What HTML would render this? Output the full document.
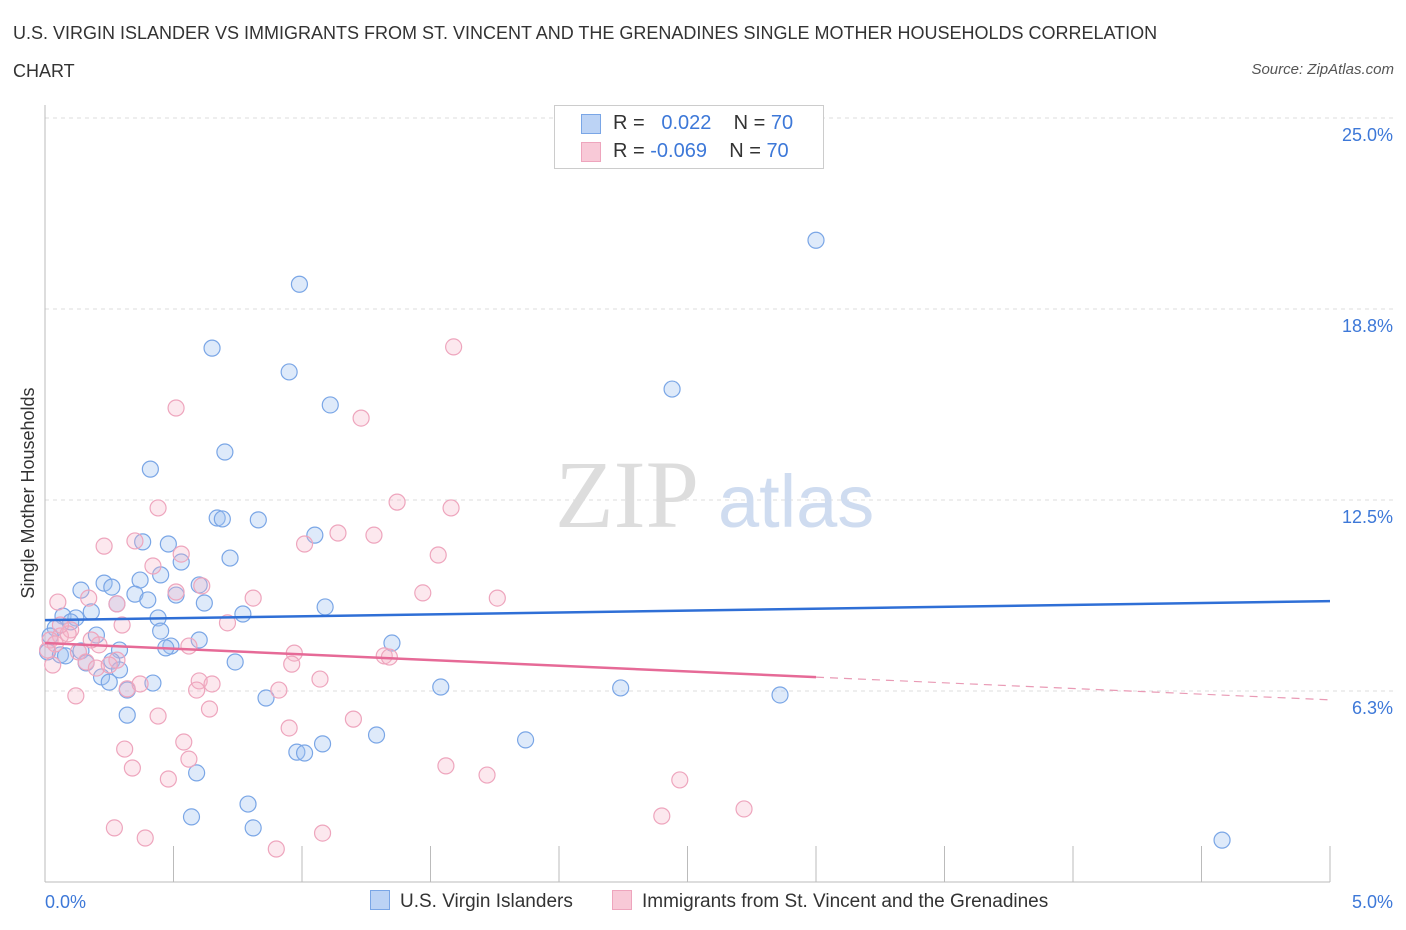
<!DOCTYPE html>
<html><head><meta charset="utf-8"><style>
body{margin:0;background:#fff;font-family:"Liberation Sans",sans-serif;}
#wrap{position:relative;width:1406px;height:930px;overflow:hidden;}
.t{position:absolute;white-space:nowrap;}
</style></head><body>
<div id="wrap">
<div class="t" style="left:13px;top:14px;font-size:18px;color:#333;line-height:38px;width:1200px;white-space:normal">U.S. VIRGIN ISLANDER VS IMMIGRANTS FROM ST. VINCENT AND THE GRENADINES SINGLE MOTHER HOUSEHOLDS CORRELATION CHART</div>
<div class="t" style="right:12px;top:61px;font-size:15px;color:#555;font-style:italic">Source: ZipAtlas.com</div>
<svg id="svg" width="1406" height="930" style="position:absolute;left:0;top:0"></svg>
</div>
<script>
const yTicks=[25.0,18.8,12.5,6.3];
const yTickVals=[25,18.75,12.5,6.25];
const xTickLabels=["0.0%","5.0%"];
const blueX=[3.00,0.99,0.65,0.95,2.44,1.11,0.70,0.41,0.67,0.69,0.83,1.05,0.38,0.48,0.72,0.53,0.23,0.26,0.37,0.45,0.14,0.35,0.40,0.51,0.60,0.62,0.28,0.18,0.07,0.12,0.10,0.77,1.09,0.44,0.45,0.04,0.02,0.20,0.49,0.47,0.60,1.35,0.01,0.06,0.08,0.14,0.29,0.26,0.16,0.29,0.22,0.25,0.74,0.42,0.32,1.54,2.24,2.86,0.86,0.32,1.29,0.98,1.01,1.08,1.87,0.59,0.79,0.57,0.81,4.58];
const blueY=[21.0,19.56,17.47,16.69,16.13,15.61,14.07,13.51,11.91,11.88,11.85,11.35,11.13,11.06,10.60,10.47,9.78,9.65,9.88,10.05,9.55,9.42,9.23,9.39,9.72,9.13,9.10,8.84,8.70,8.64,8.51,8.77,9.00,8.64,8.21,8.31,8.05,8.08,7.72,7.66,7.92,7.82,7.53,7.43,7.40,7.56,7.59,7.23,7.17,6.94,6.71,6.54,7.20,6.51,6.28,6.38,6.35,6.12,6.02,5.46,4.81,4.25,4.22,4.52,4.65,3.57,2.55,2.13,1.77,1.37];
const pinkX=[1.59,0.51,1.23,1.37,1.58,0.44,1.14,1.28,0.23,0.35,1.01,0.53,1.53,0.42,0.61,0.51,1.47,1.76,0.81,0.17,0.05,0.28,0.71,0.30,0.10,0.06,0.09,0.02,0.04,0.56,0.97,0.21,1.32,1.34,0.13,0.28,0.16,0.96,0.03,0.20,1.07,0.60,0.65,0.59,0.91,0.32,0.37,0.12,0.64,0.44,1.20,0.95,0.54,0.31,0.56,0.34,1.56,1.72,0.48,2.47,2.72,0.27,2.40,1.08,0.39,0.90,0.06,0.01,0.25,0.18];
const pinkY=[17.51,15.51,15.18,12.43,12.24,12.24,11.42,11.35,10.99,11.16,11.06,10.73,10.70,10.34,9.69,9.49,9.46,9.29,9.29,9.29,9.16,9.10,8.48,8.41,8.25,8.05,8.12,7.92,7.79,7.72,7.49,7.76,7.40,7.36,7.53,7.26,7.20,7.13,7.10,7.00,6.64,6.58,6.48,6.28,6.28,6.32,6.48,6.09,5.66,5.43,5.33,5.04,4.58,4.35,4.02,3.73,3.80,3.50,3.37,3.34,2.39,1.77,2.16,1.60,1.44,1.08,8.41,7.59,7.10,7.92];
const blueTrend=[8.57,9.19];
const pinkTrend=[7.82,5.96];
const pinkSolidEnd=3.0;

const X0=45,X1=1330,Y0=882,Y1=118;
const sx=v=>X0+(v/5)*(X1-X0);
const sy=v=>Y0-(v/25)*(Y0-Y1);
const svg=document.getElementById('svg');
const NS='http://www.w3.org/2000/svg';
function mk(tag,attrs,name){const e=document.createElementNS(NS,tag);for(const k in attrs)e.setAttribute(k,attrs[k]);


svg.appendChild(e);return e;}
yTickVals.forEach((v,i)=>{
 mk('line',{x1:X0,x2:1395,y1:sy(v),y2:sy(v),stroke:'#ddd','stroke-dasharray':'4 4'},'y-gridline');
 const t=mk('text',{x:1393,y:sy(v)+23,'text-anchor':'end','font-size':18,fill:'#3d78d8','font-family':'Liberation Sans,sans-serif'},'y-tick-label');
 t.textContent=yTicks[i].toFixed(1)+'%';
});
mk('line',{x1:X0,x2:X0,y1:105,y2:Y0,stroke:'#bbb'},'y-axis');
mk('line',{x1:X0,x2:X1,y1:Y0,y2:Y0,stroke:'#bbb'},'x-axis');
for(let i=0;i<=10;i++){mk('line',{x1:sx(i*0.5),x2:sx(i*0.5),y1:Y0-36,y2:Y0,stroke:'#bbb'},'x-tick');}
let t=mk('text',{x:45,y:908,'font-size':18,fill:'#3d78d8','font-family':'Liberation Sans,sans-serif'},'x-tick-label-min');t.textContent=xTickLabels[0];
t=mk('text',{x:1393,y:908,'text-anchor':'end','font-size':18,fill:'#3d78d8','font-family':'Liberation Sans,sans-serif'},'x-tick-label-max');t.textContent=xTickLabels[1];
t=mk('text',{x:0,y:0,transform:'translate(34,493) rotate(-90)','text-anchor':'middle','font-size':18,fill:'#333','font-family':'Liberation Sans,sans-serif'},'y-axis-title');t.textContent='Single Mother Households';
t=mk('text',{x:555,y:527,'font-size':96,fill:'#ddd','font-family':'Liberation Serif,serif'},'watermark-zip');t.textContent='ZIP';
t=mk('text',{x:718,y:527,'font-size':74,fill:'#cfdcf0','font-family':'Liberation Sans,sans-serif'},'watermark-atlas');t.textContent='atlas';
blueX.forEach((x,i)=>{mk('circle',{cx:sx(x),cy:sy(blueY[i]),r:8,fill:'rgba(160,195,240,0.35)',stroke:'#7aa6e6','stroke-width':1.2},'blue-point');});
pinkX.forEach((x,i)=>{mk('circle',{cx:sx(x),cy:sy(pinkY[i]),r:8,fill:'rgba(245,180,200,0.3)',stroke:'#eea5bd','stroke-width':1.2},'pink-point');});
mk('line',{x1:sx(0),y1:sy(blueTrend[0]),x2:sx(5),y2:sy(blueTrend[1]),stroke:'#2f6fd6','stroke-width':2.5},'blue-trend-line');
const pAt=x=>pinkTrend[0]+(pinkTrend[1]-pinkTrend[0])*x/5;
mk('line',{x1:sx(0),y1:sy(pinkTrend[0]),x2:sx(pinkSolidEnd),y2:sy(pAt(pinkSolidEnd)),stroke:'#e66a97','stroke-width':2.5},'pink-trend-line');
mk('line',{x1:sx(pinkSolidEnd),y1:sy(pAt(pinkSolidEnd)),x2:sx(5),y2:sy(pinkTrend[1]),stroke:'#e99ab5','stroke-width':1.2,'stroke-dasharray':'8 6'},'pink-trend-extension');
</script>
<div class="t" style="left:554px;top:105px;width:268px;height:62px;border:1px solid #ccc;background:#fff;font-size:20px;color:#333">
 <div style="position:absolute;left:26px;top:8px;width:18px;height:18px;background:#bcd3f5;border:1px solid #7aa6e6"></div>
 <div class="t" style="left:58px;top:6px">R = &nbsp;&nbsp;<span style="color:#3d78d8">0.022</span>&nbsp;&nbsp;&nbsp; N = <span style="color:#3d78d8">70</span></div>
 <div style="position:absolute;left:26px;top:36px;width:18px;height:18px;background:#f8c9d7;border:1px solid #eea5bd"></div>
 <div class="t" style="left:58px;top:34px">R = <span style="color:#3d78d8">-0.069</span>&nbsp;&nbsp;&nbsp; N = <span style="color:#3d78d8">70</span></div>
</div>
<div class="t" style="left:370px;top:890px;font-size:19px;color:#333"><span style="display:inline-block;width:18px;height:18px;background:#bcd3f5;border:1px solid #7aa6e6;vertical-align:-3px;margin-right:10px"></span>U.S. Virgin Islanders</div>
<div class="t" style="left:612px;top:890px;font-size:19px;color:#333"><span style="display:inline-block;width:18px;height:18px;background:#f8c9d7;border:1px solid #eea5bd;vertical-align:-3px;margin-right:10px"></span>Immigrants from St. Vincent and the Grenadines</div>
</body></html>
